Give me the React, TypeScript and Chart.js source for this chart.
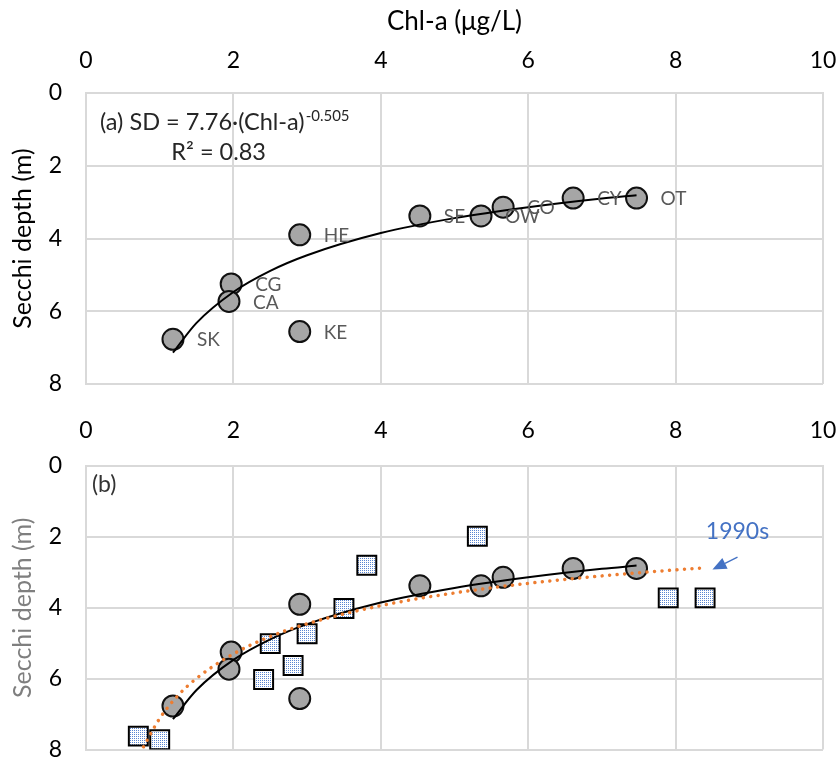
import { useEffect, useRef } from 'react';
import { Chart, registerables } from 'chart.js';

Chart.register(...registerables);

const FONT = 'Lato, "Open Sans", sans-serif';

// ---- data ----
const siteNames = ['SK', 'CG', 'CA', 'HE', 'KE', 'SE', 'OW', 'CO', 'CY', 'OT'];
const chlA = [1.18, 1.97, 1.94, 2.9, 2.9, 4.53, 5.36, 5.66, 6.61, 7.47];
const secchi = [6.77, 5.25, 5.73, 3.9, 6.56, 3.38, 3.38, 3.14, 2.89, 2.89];

// power trend (SD = 7.76·Chl-a^-0.505)
const fitChl = [1.18, 1.5, 2, 2.5, 3, 4, 5, 6, 7, 7.47];
const fitSecchi = [7.14, 6.32, 5.47, 4.89, 4.46, 3.85, 3.44, 3.14, 2.9, 2.81];

// 1990s observations
const chl1990s = [0.71, 1.0, 2.5, 2.41, 2.81, 3.0, 3.5, 3.81, 5.31, 7.9, 8.4];
const secchi1990s = [7.62, 7.72, 5.01, 6.02, 5.63, 4.73, 4.02, 2.8, 1.98, 3.72, 3.72];

// 1990s trend, values
const fit1990sChl = [0.78, 1.0, 1.25, 1.5, 2, 2.5, 3, 4, 5, 6, 7, 8, 8.35];
const fit1990sSecchi = [7.92, 7.12, 6.47, 5.99, 5.3, 4.81, 4.45, 3.94, 3.58, 3.31, 3.1, 2.93, 2.88];

const xAxisTitle = 'Chl-a (μg/L)';
const yAxisTitle = 'Secchi depth (m)';
const equationText = '(a) SD = 7.76·(Chl-a)';
const equationExp = '-0.505';
const r2Text = 'R² = 0.83';
const panelBText = '(b)';
const decadeText = '1990s';

// annotation anchors in data units
const eqAnchor = { x: 0.19, y: 0.82 };
const r2Anchor = { x: 1.8, y: 1.62 };
const panelBAnchor = { x: 0.08, y: 0.52 };
const decadeAnchor = { x: 8.84, y: 1.85 };
const arrowTail = { x: 8.84, y: 2.57 };
const arrowTip = { x: 8.5, y: 2.92 };

const GRID = '#d9d9d9';

const pts = (xs: number[], ys: number[]) => xs.map((x, i) => ({ x, y: ys[i] }));

function makeDotPattern(): CanvasPattern | string {
  const c = document.createElement('canvas');
  c.width = 2;
  c.height = 2;
  const g = c.getContext('2d');
  if (!g) return '#c9d8f0';
  g.fillStyle = '#ffffff';
  g.fillRect(0, 0, 2, 2);
  g.fillStyle = '#5a86d2';
  g.fillRect(0, 0, 1, 1);
  const p = g.createPattern(c, 'repeat');
  return p || '#c9d8f0';
}

function xScale(title: string | null, labelPad: number, height: number) {
  return {
    type: 'linear',
    position: 'top',
    min: 0,
    max: 10,
    ticks: { stepSize: 2, padding: labelPad, color: '#000', font: { family: FONT, size: 23 }, maxRotation: 0 },
    grid: { color: GRID, lineWidth: 2, drawTicks: false },
    border: { display: true, color: GRID, width: 2 },
    title: title
      ? { display: true, text: title, color: '#000', font: { family: FONT, size: 26 }, padding: { top: 6, bottom: 0 } }
      : { display: false },
    afterFit(s: any) {
      s.height = height;
      s.paddingLeft = 0;
      s.paddingRight = 0;
    },
  };
}

function yScale(titleColor: string) {
  return {
    type: 'linear',
    position: 'left',
    reverse: true,
    min: 0,
    max: 8,
    ticks: { stepSize: 2, padding: 24, color: '#000', font: { family: FONT, size: 23 } },
    grid: { color: GRID, lineWidth: 2, drawTicks: false },
    border: { display: true, color: GRID, width: 2 },
    title: { display: true, text: yAxisTitle, color: titleColor, font: { family: FONT, size: 25 }, padding: { top: 8, bottom: 0 } },
    afterFit(s: any) {
      s.width = 86;
      s.paddingTop = 0;
      s.paddingBottom = 0;
    },
  };
}

const circleStyle = {
  pointRadius: 10.5,
  pointHoverRadius: 10.5,
  pointBackgroundColor: '#a6a6a6',
  pointBorderColor: '#111',
  pointBorderWidth: 2,
  pointHoverBorderWidth: 2,
  showLine: false,
};

const trendStyle = {
  showLine: true,
  borderColor: '#000',
  borderWidth: 2,
  pointRadius: 0,
  pointHoverRadius: 0,
  cubicInterpolationMode: 'monotone',
  fill: false,
};

const topPlugin = {
  id: 'topAnnotations',
  afterDatasetsDraw(chart: any) {
    const { ctx, scales } = chart;
    const x = scales.x;
    const y = scales.y;
    ctx.save();
    ctx.font = `19px ${FONT}`;
    ctx.fillStyle = '#595959';
    ctx.textAlign = 'left';
    ctx.textBaseline = 'middle';
    siteNames.forEach((n, i) => {
      ctx.fillText(n, x.getPixelForValue(chlA[i]) + 24, y.getPixelForValue(secchi[i]) + 1);
    });
    ctx.fillStyle = '#262626';
    ctx.font = `23.5px ${FONT}`;
    const ex = x.getPixelForValue(eqAnchor.x);
    const ey = y.getPixelForValue(eqAnchor.y);
    ctx.fillText(equationText, ex, ey);
    const w = ctx.measureText(equationText).width;
    ctx.font = `15px ${FONT}`;
    ctx.fillText(equationExp, ex + w + 1, ey - 7);
    ctx.font = `23.5px ${FONT}`;
    ctx.textAlign = 'center';
    ctx.fillText(r2Text, x.getPixelForValue(r2Anchor.x), y.getPixelForValue(r2Anchor.y));
    ctx.restore();
  },
};

const bottomPlugin = {
  id: 'bottomAnnotations',
  afterDatasetsDraw(chart: any) {
    const { ctx, scales } = chart;
    const x = scales.x;
    const y = scales.y;
    ctx.save();
    ctx.textBaseline = 'middle';
    ctx.textAlign = 'left';
    ctx.fillStyle = '#333333';
    ctx.font = `23px ${FONT}`;
    ctx.fillText(panelBText, x.getPixelForValue(panelBAnchor.x), y.getPixelForValue(panelBAnchor.y));
    ctx.fillStyle = '#4472c4';
    ctx.font = `23px ${FONT}`;
    ctx.textAlign = 'center';
    ctx.fillText(decadeText, x.getPixelForValue(decadeAnchor.x), y.getPixelForValue(decadeAnchor.y));
    // arrow
    const tx = x.getPixelForValue(arrowTail.x);
    const ty = y.getPixelForValue(arrowTail.y);
    const hx = x.getPixelForValue(arrowTip.x);
    const hy = y.getPixelForValue(arrowTip.y);
    const ang = Math.atan2(hy - ty, hx - tx);
    const headLen = 14;
    const headW = 6;
    const bx = hx - headLen * Math.cos(ang);
    const by = hy - headLen * Math.sin(ang);
    ctx.strokeStyle = '#4472c4';
    ctx.lineWidth = 1.5;
    ctx.beginPath();
    ctx.moveTo(tx, ty);
    ctx.lineTo(bx, by);
    ctx.stroke();
    ctx.beginPath();
    ctx.moveTo(hx, hy);
    ctx.lineTo(bx + headW * Math.sin(ang), by - headW * Math.cos(ang));
    ctx.lineTo(bx - headW * Math.sin(ang), by + headW * Math.cos(ang));
    ctx.closePath();
    ctx.fillStyle = '#4472c4';
    ctx.fill();
    ctx.restore();
  },
};

export default function App() {
  const topRef = useRef<HTMLCanvasElement>(null);
  const botRef = useRef<HTMLCanvasElement>(null);

  useEffect(() => {
    const pattern = makeDotPattern();
    const common = {
      animation: false,
      responsive: false,
      maintainAspectRatio: false,
      plugins: { legend: { display: false }, tooltip: { enabled: false } },
      events: [],
    };

    const top = new Chart(topRef.current as HTMLCanvasElement, {
      type: 'scatter',
      data: {
        datasets: [
          { ...trendStyle, data: pts(fitChl, fitSecchi) } as any,
          { ...circleStyle, data: pts(chlA, secchi) } as any,
        ],
      },
      options: {
        ...common,
        layout: { padding: { left: 0, right: 17, top: 0, bottom: 16 } },
        scales: { x: xScale(xAxisTitle, 19, 93), y: yScale('#000') } as any,
      } as any,
      plugins: [topPlugin],
    });

    const bottom = new Chart(botRef.current as HTMLCanvasElement, {
      type: 'scatter',
      data: {
        datasets: [
          {
            showLine: true,
            borderColor: '#ed7d31',
            borderWidth: 3.5,
            borderDash: [0.01, 7.5],
            borderCapStyle: 'round',
            pointRadius: 0,
            pointHoverRadius: 0,
            cubicInterpolationMode: 'monotone',
            data: pts(fit1990sChl, fit1990sSecchi),
          } as any,
          { ...trendStyle, data: pts(fitChl, fitSecchi) } as any,
          {
            showLine: false,
            pointStyle: 'rect',
            pointRadius: 13.4,
            pointHoverRadius: 13.4,
            pointBackgroundColor: pattern,
            pointBorderColor: '#000',
            pointBorderWidth: 2,
            pointHoverBorderWidth: 2,
            data: pts(chl1990s, secchi1990s),
          } as any,
          { ...circleStyle, data: pts(chlA, secchi) } as any,
        ],
      },
      options: {
        ...common,
        layout: { padding: { left: 0, right: 17, top: 0, bottom: 9 } },
        scales: { x: xScale(null, 22, 66), y: yScale('#7f7f7f') } as any,
      } as any,
      plugins: [bottomPlugin],
    });

    return () => {
      top.destroy();
      bottom.destroy();
    };
  }, []);

  return (
    <div style={{ position: 'absolute', left: 0, top: 0, width: 840, height: 765, background: '#fff', overflow: 'hidden' }}>
      <canvas ref={topRef} width={840} height={400} style={{ position: 'absolute', left: 0, top: 0, width: 840, height: 400 }} />
      <canvas ref={botRef} width={840} height={365} style={{ position: 'absolute', left: 0, top: 400, width: 840, height: 365 }} />
    </div>
  );
}
